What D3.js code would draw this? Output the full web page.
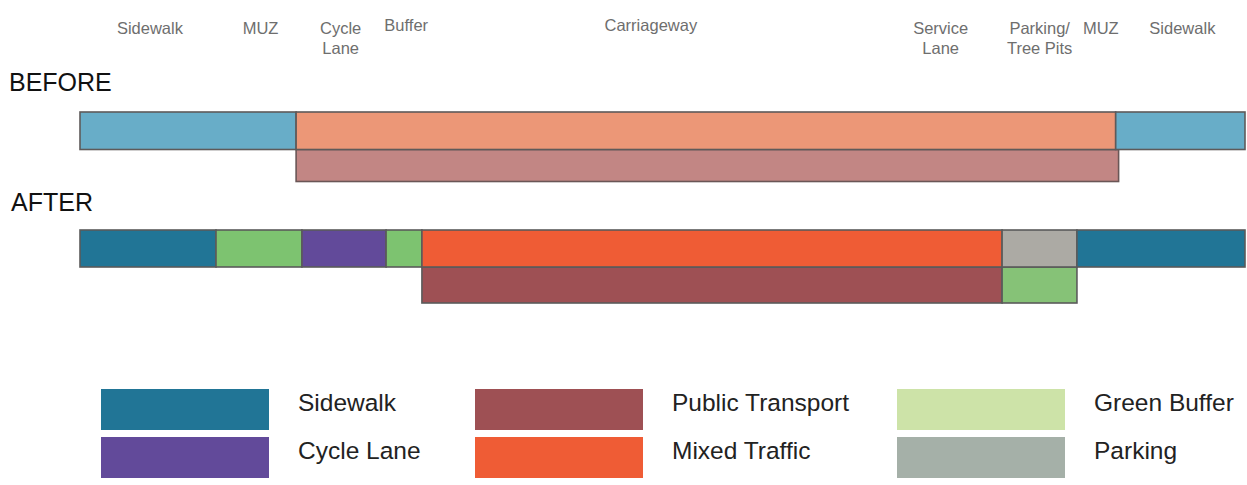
<!DOCTYPE html>
<html>
<head>
<meta charset="utf-8">
<script src="https://cdn.jsdelivr.net/npm/d3@7"></script>
<style>
  body { margin: 0; background: #fff; }
  svg text { font-family: "Liberation Sans", Arial, Helvetica, sans-serif; }
</style>
</head>
<body>
<div id="chart"></div>
<script>
// street cross-section, metres from left kerb edge
const streetWidth = 40;

// zone labels along the top: [name lines, centre position]
const zoneLabels = [
    { lines: ["Sidewalk"], at: 2.4 },
    { lines: ["MUZ"], at: 6.2 },
    { lines: ["Cycle", "Lane"], at: 8.95 },
    { lines: ["Buffer"], at: 11.2, up: true },
    { lines: ["Carriageway"], at: 19.6, up: true },
    { lines: ["Service", "Lane"], at: 29.55 },
    { lines: ["Parking/", "Tree Pits"], at: 32.95 },
    { lines: ["MUZ"], at: 35.05 },
    { lines: ["Sidewalk"], at: 37.85 }
];

// BEFORE: top lane and lower lane
const beforeTop = [
    { type: "oldSidewalk", from: 0, to: 7.42 },
    { type: "oldTraffic", from: 7.42, to: 35.56 },
    { type: "oldSidewalk", from: 35.56, to: 40 }
];
const beforeBottom = [
    { type: "oldTransit", from: 7.42, to: 35.66 }
];

// AFTER: top lane and lower lane
const afterTop = [
    { type: "sidewalk", from: 0, to: 4.67 },
    { type: "muz", from: 4.67, to: 7.62 },
    { type: "cycle", from: 7.62, to: 10.51 },
    { type: "muz", from: 10.51, to: 11.74 },
    { type: "mixed", from: 11.74, to: 31.66 },
    { type: "parking", from: 31.66, to: 34.23 },
    { type: "sidewalk", from: 34.23, to: 40 }
];
const afterBottom = [
    { type: "transit", from: 11.74, to: 31.66 },
    { type: "greenLow", from: 31.66, to: 34.23 }
];

// legend
const legendNames = ["Sidewalk", "Cycle Lane", "Public Transport", "Mixed Traffic", "Green Buffer", "Parking"];
const legendColors = ["#217596", "#624a9a", "#9e5054", "#ef5c35", "#cde3a8", "#a5b0a8"];

const fills = {
    oldSidewalk: "#68adc8",
    oldTraffic: "#ec9777",
    oldTransit: "#c28684",
    sidewalk: "#217596",
    muz: "#7dc370",
    cycle: "#624a9a",
    mixed: "#ef5c35",
    parking: "#acaaa4",
    transit: "#9e5054",
    greenLow: "#86c277"
};

const width = 1247;
const height = 485;

const svg = d3.select("#chart").append("svg")
    .attr("width", width)
    .attr("height", height);

const x = d3.scaleLinear()
    .domain([0, streetWidth])
    .range([80, 1245]);

// top labels
zoneLabels.forEach(function(d) {
    const t = svg.append("text")
        .attr("x", x(d.at))
        .attr("y", d.up ? 31 : 34)
        .attr("text-anchor", "middle")
        .attr("fill", "#6e6e6e")
        .style("font-size", "16.5px");
    d.lines.forEach(function(line, i) {
        t.append("tspan")
            .attr("x", x(d.at))
            .attr("dy", i === 0 ? 0 : 20)
            .text(line);
    });
});

// row titles
svg.append("text").attr("x", 9).attr("y", 91)
    .style("font-size", "25px").attr("fill", "#111").text("BEFORE");
svg.append("text").attr("x", 11).attr("y", 211)
    .style("font-size", "25px").attr("fill", "#111").text("AFTER");

function drawLane(data, y, h, stroke) {
    svg.append("g").selectAll("rect")
        .data(data)
        .join("rect")
        .attr("x", d => x(d.from))
        .attr("y", y)
        .attr("width", d => x(d.to) - x(d.from))
        .attr("height", h)
        .attr("fill", d => fills[d.type])
        .attr("stroke", stroke)
        .attr("stroke-width", 1.6);
}

drawLane(beforeBottom, 149.5, 32, "#6a5656");
drawLane(beforeTop, 112, 37.5, "#5e5a5a");
drawLane(afterBottom, 267, 36, "#5b5b5b");
drawLane(afterTop, 230, 37, "#5b5b5b");

// legend: 3 columns x 2 rows
const legend = svg.append("g");
const colX = [101, 475, 897];
const rowY = [389, 437];

legend.selectAll("rect")
    .data(legendNames)
    .join("rect")
    .attr("x", (d, i) => colX[Math.floor(i / 2)])
    .attr("y", (d, i) => rowY[i % 2])
    .attr("width", 168)
    .attr("height", 41)
    .attr("fill", (d, i) => legendColors[i]);

legend.selectAll("text")
    .data(legendNames)
    .join("text")
    .attr("x", (d, i) => colX[Math.floor(i / 2)] + 197)
    .attr("y", (d, i) => rowY[i % 2] + 22)
    .style("font-size", "24.5px")
    .attr("fill", "#222")
    .text(d => d);
</script>
</body>
</html>
